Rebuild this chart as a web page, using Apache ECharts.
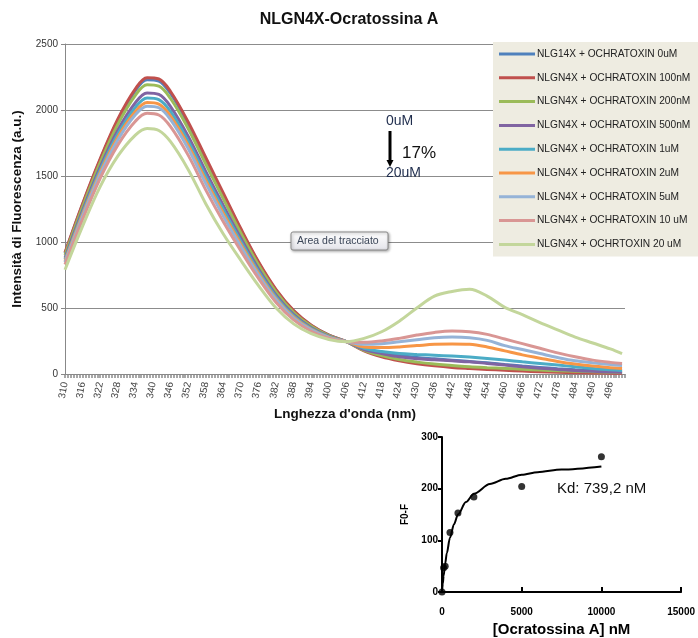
<!DOCTYPE html>
<html>
<head>
<meta charset="utf-8">
<script src="https://cdn.jsdelivr.net/npm/echarts@6/dist/echarts.min.js"></script>
<style>
  html, body { margin: 0; padding: 0; background: #fff; }
  #main { width: 698px; height: 638px; }
</style>
</head>
<body>
<div id="main"></div>
<script>
var FONT = '"Liberation Sans", Arial, sans-serif';

// wavelength (nm) at which the curves were read
var wavelengths = [310,316,322,328,334,338,342,346,352,358,364,370,376,382,388,394,400,406,
                   412,418,424,430,436,442,448,454,460,466,472,478,484,490,496,500];
var xTickLabels = [310,316,322,328,334,340,346,352,358,364,370,376,382,388,394,400,406,
                   412,418,424,430,436,442,448,454,460,466,472,478,484,490,496];

var names = ['NLG14X + OCHRATOXIN 0uM', 'NLGN4X + OCHRATOXIN 100nM', 'NLGN4X + OCHRATOXIN 200nM',
             'NLGN4X + OCHRATOXIN 500nM', 'NLGN4X + OCHRATOXIN 1uM', 'NLGN4X + OCHRATOXIN 2uM',
             'NLGN4X + OCHRATOXIN 5uM', 'NLGN4X + OCHRATOXIN 10 uM', 'NLGN4X + OCHRTOXIN 20 uM'];
var colors = ['#4F81BD', '#C0504D', '#9BBB59', '#8064A2', '#4BACC6', '#F79646', '#95B3D7', '#D99694', '#C3D69B'];

var s0uM   = [915,1283,1622,1919,2146,2230,2219,2125,1896,1626,1358,1090,843,634,476,367,294,245,
              190,160,140,125,115,105,95,85,72,60,50,40,32,25,20,18];
var s100nM = [920,1290,1630,1930,2160,2245,2235,2140,1910,1640,1370,1100,850,640,480,370,295,245,
              175,130,100,78,62,50,42,35,28,22,17,13,10,8,6,5];
var s200nM = [902,1266,1601,1891,2111,2191,2180,2087,1860,1591,1327,1066,825,620,466,361,290,245,
              180,140,110,90,75,65,55,48,42,36,30,25,20,17,14,12];
var s500nM = [881,1239,1567,1846,2055,2129,2118,2026,1802,1535,1277,1028,796,598,450,350,285,245,
              185,155,130,115,108,100,92,80,68,55,44,35,26,20,16,14];
var s1uM   = [868,1222,1546,1818,2020,2091,2079,1988,1766,1500,1246,1004,778,584,440,344,282,245,
              195,170,155,148,142,136,128,118,106,92,80,68,55,42,32,26];
var s2uM   = [856,1207,1527,1793,1988,2056,2044,1954,1734,1468,1218,982,762,571,431,338,279,245,
              205,200,205,215,225,228,225,205,175,145,120,95,75,60,48,42];
var s5uM   = [847,1195,1512,1773,1964,2029,2017,1927,1708,1444,1196,966,749,562,424,334,277,245,
              225,230,245,260,275,280,275,255,215,185,155,125,100,85,72,65];
var s10uM  = [829,1171,1483,1734,1915,1975,1962,1874,1658,1395,1153,932,724,542,410,324,272,245,
              240,250,270,295,315,325,320,300,265,230,195,160,130,105,88,80];
var s20uM  = [790,1120,1420,1650,1810,1860,1845,1760,1550,1290,1060,860,670,500,380,305,262,245,
              270,320,400,500,590,625,642,590,505,450,390,335,280,235,190,155];
var spectra = [s0uM, s100nM, s200nM, s500nM, s1uM, s2uM, s5uM, s10uM, s20uM];

// inset: binding data and fitted curve
var concNM = [0, 100, 200, 500, 1000, 2000, 5000, 10000];
var f0MinusF = [0, 47, 50, 115, 153, 184, 204, 262];
var fitX = [0, 50, 100, 200, 300, 500, 750, 1000, 1500, 2000, 3000, 4000, 5000, 6000, 7500, 10000];
var fitY = [0, 16, 31, 55, 75, 105, 131, 150, 174, 190, 209, 219, 227, 232, 237, 243];

var nmTicks = [];
for (var t = 310; t <= 501; t++) nmTicks.push(t);

function plain(v) { return String(v); }

var myChart = echarts.init(document.getElementById('main'));

var series = spectra.map(function (arr, i) {
    return {
        name: names[i],
        type: 'line',
        xAxisIndex: 0,
        yAxisIndex: 0,
        smooth: 0.35,
        symbol: 'none',
        lineStyle: { width: 3, color: colors[i] },
        itemStyle: { color: colors[i] },
        data: wavelengths.map(function (w, k) { return [w, arr[k]]; })
    };
});

series.push({
    name: 'fit',
    type: 'line',
    xAxisIndex: 1,
    yAxisIndex: 1,
    smooth: 0.3,
    smoothMonotone: 'x',
    symbol: 'none',
    lineStyle: { width: 2, color: '#000' },
    data: fitX.map(function (x, k) { return [x, fitY[k]]; })
});
series.push({
    name: 'points',
    type: 'scatter',
    xAxisIndex: 1,
    yAxisIndex: 1,
    symbolSize: 7,
    itemStyle: { color: '#000' },
    data: concNM.map(function (x, k) { return [x, f0MinusF[k]]; })
});

var option = {
    animation: false,
    textStyle: { fontFamily: FONT },
    title: {
        text: 'NLGN4X-Ocratossina A',
        left: 'center',
        top: 7,
        textStyle: { fontFamily: FONT, fontSize: 16, fontWeight: 'bold', color: '#111' }
    },
    legend: {
        data: names,
        orient: 'vertical',
        left: 493,
        top: 42,
        width: 205,
        padding: [7, 20, 7, 6],
        itemGap: 13.8,
        itemWidth: 36,
        itemHeight: 3,
        icon: 'rect',
        backgroundColor: '#EEECE1',
        textStyle: { fontFamily: FONT, fontSize: 10.2, color: '#222', padding: [0, 0, 0, -3] }
    },
    grid: [
        { left: 65, right: 73, top: 44, bottom: 264 },
        { left: 442, right: 13, top: 437, bottom: 40 }
    ],
    xAxis: [
        {
            type: 'value',
            gridIndex: 0,
            min: 310,
            max: 501,
            name: "Lnghezza d'onda (nm)",
            nameLocation: 'middle',
            nameGap: 31,
            nameTextStyle: { fontFamily: FONT, fontSize: 13.5, fontWeight: 'bold', color: '#111' },
            axisLine: { lineStyle: { color: '#888', width: 1 } },
            axisTick: { customValues: nmTicks, length: 4, lineStyle: { color: '#8a8a8a', width: 1.5 } },
            axisLabel: { customValues: xTickLabels, rotate: 80, fontSize: 10, color: '#404040', margin: 8, formatter: plain },
            splitLine: { show: false }
        },
        {
            type: 'value',
            gridIndex: 1,
            min: 0,
            max: 15000,
            interval: 5000,
            name: '[Ocratossina A] nM',
            nameLocation: 'middle',
            nameGap: 30,
            nameTextStyle: { fontFamily: FONT, fontSize: 15, fontWeight: 'bold', color: '#000' },
            axisLine: { onZero: false, lineStyle: { color: '#000', width: 2 } },
            axisTick: { inside: true, length: 5, lineStyle: { color: '#000', width: 2 } },
            axisLabel: { fontSize: 10, fontWeight: 'bold', color: '#000', margin: 15, formatter: plain },
            splitLine: { show: false }
        }
    ],
    yAxis: [
        {
            type: 'value',
            gridIndex: 0,
            min: 0,
            max: 2500,
            interval: 500,
            name: 'Intensità di Fluorescenza (a.u.)',
            nameLocation: 'middle',
            nameGap: 41,
            nameTextStyle: { fontFamily: FONT, fontSize: 13.5, fontWeight: 'bold', color: '#111' },
            axisLine: { show: true, lineStyle: { color: '#888', width: 1 } },
            axisTick: { show: true, length: 4, lineStyle: { color: '#888' } },
            axisLabel: { fontSize: 10, color: '#333', margin: 7, formatter: plain },
            splitLine: { lineStyle: { color: '#8c8c8c', width: 1 } }
        },
        {
            type: 'value',
            gridIndex: 1,
            min: 0,
            max: 300,
            interval: 100,
            name: 'F0-F',
            nameLocation: 'middle',
            nameGap: 32,
            nameTextStyle: { fontFamily: FONT, fontSize: 10, fontWeight: 'bold', color: '#000' },
            axisLine: { show: true, onZero: false, lineStyle: { color: '#000', width: 2 } },
            axisTick: { show: true, length: 4, lineStyle: { color: '#000', width: 2 } },
            axisLabel: { fontSize: 10, fontWeight: 'bold', color: '#000', margin: 4, formatter: plain },
            splitLine: { show: false }
        }
    ],
    graphic: [
        // "Area del tracciato" hint box
        {
            type: 'rect',
            shape: { x: 291, y: 232, width: 97, height: 18, r: 2 },
            style: {
                fill: new echarts.graphic.LinearGradient(0, 0, 0, 1, [
                    { offset: 0, color: '#ffffff' }, { offset: 1, color: '#e4e4ea' }
                ]),
                stroke: '#8a8a8a',
                lineWidth: 1,
                shadowBlur: 3,
                shadowOffsetX: 1,
                shadowOffsetY: 1,
                shadowColor: 'rgba(0,0,0,0.35)'
            },
            z: 10
        },
        {
            type: 'text',
            x: 297,
            y: 241,
            style: { text: 'Area del tracciato', fontFamily: FONT, fontSize: 10.5, fill: '#3b4658', verticalAlign: 'middle' },
            z: 11
        },
        // quench annotation
        {
            type: 'text', x: 386, y: 121,
            style: { text: '0uM', fontFamily: FONT, fontSize: 14, fill: '#1F2D4D', verticalAlign: 'middle' },
            z: 10
        },
        {
            type: 'text', x: 402, y: 153,
            style: { text: '17%', fontFamily: FONT, fontSize: 17, fill: '#111', verticalAlign: 'middle' },
            z: 10
        },
        {
            type: 'text', x: 386, y: 173,
            style: { text: '20uM', fontFamily: FONT, fontSize: 14, fill: '#1F2D4D', verticalAlign: 'middle' },
            z: 10
        },
        {
            type: 'line',
            shape: { x1: 390, y1: 131, x2: 390, y2: 161 },
            style: { stroke: '#000', lineWidth: 3 },
            z: 10
        },
        {
            type: 'polygon',
            shape: { points: [[386.5, 160], [393.5, 160], [390, 167]] },
            style: { fill: '#000' },
            z: 10
        },
        {
            type: 'text', x: 557, y: 489,
            style: { text: 'Kd: 739,2 nM', fontFamily: FONT, fontSize: 15, fill: '#111', verticalAlign: 'middle' },
            z: 10
        }
    ],
    series: series
};

myChart.setOption(option);
onresize = myChart.resize;
</script>
</body>
</html>
